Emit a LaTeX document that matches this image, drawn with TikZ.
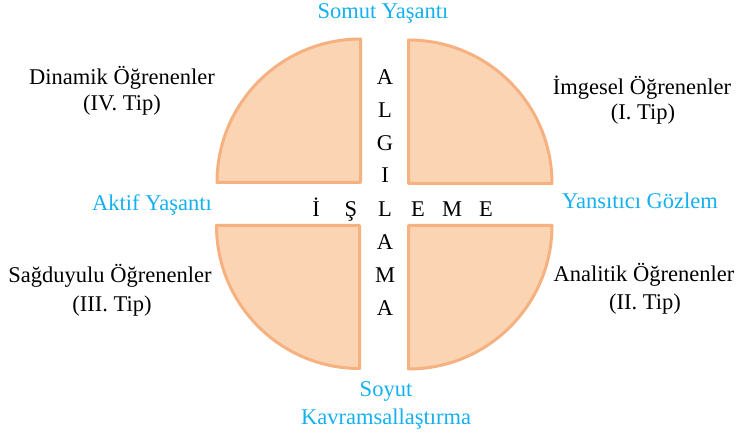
\documentclass[tikz,border=0pt]{standalone}
\usepackage{fontspec}
\setmainfont{Liberation Serif}
\definecolor{quadfill}{RGB}{251,212,180}
\definecolor{quadline}{RGB}{245,178,128}
\definecolor{bluetext}{RGB}{20,176,240}
\begin{document}
\begin{tikzpicture}[x=1pt,y=1pt,
  quad/.style={fill=quadfill,draw=quadline,line width=3pt,line join=round},
  lbl/.style={inner sep=0pt,anchor=base,font=\fontsize{22.5}{27}\selectfont},
  bluelbl/.style={lbl,text=bluetext},
  letter/.style={lbl}]
\useasboundingbox (0,0) rectangle (738,438);
% quadrants
\path[quad] (360.5,255.5) -- ++(-143.5,0) arc[start angle=180,end angle=90,radius=143.5] -- cycle;
\path[quad] (408.5,254.5) -- ++(0,143.5) arc[start angle=90,end angle=0,radius=143.5] -- cycle;
\path[quad] (359.5,212.5) -- ++(-143,0) arc[start angle=180,end angle=270,radius=143] -- cycle;
\path[quad] (408.5,212.5) -- ++(143.5,0) arc[start angle=0,end angle=-90,radius=143.5] -- cycle;
% vertical word
\node[letter] (v1) at (385,353) {A};
\node[letter] (v2) at (385,320) {L};
\node[letter] (v3) at (385,287) {G};
\node[letter] (v4) at (385,255) {I};
\node[letter] (v5) at (385,221.5) {L};
\node[letter] (v6) at (385,188) {A};
\node[letter] (v7) at (385,155) {M};
\node[letter] (v8) at (385,122) {A};
% horizontal word
\node[letter] (h1) at (316,221.5) {İ};
\node[letter] (h2) at (351,221.5) {Ş};
\node[letter] (h4) at (418,221.5) {E};
\node[letter] (h5) at (452,221.5) {M};
\node[letter] (h6) at (486,221.5) {E};
% blue labels
\node[bluelbl] (somut) at (383,419) {Somut Yaşantı};
\node[bluelbl] (aktif) at (152,227) {Aktif Yaşantı};
\node[bluelbl] (yans) at (640,229) {Yansıtıcı Gözlem};
\node[bluelbl] (soyut1) at (386,41) {Soyut};
\node[bluelbl] (soyut2) at (386,13) {Kavramsallaştırma};
% learner types
\node[lbl] (dyn1) at (122,353) {Dinamik Öğrenenler};
\node[lbl] (dyn2) at (122,327) {(IV. Tip)};
\node[lbl] (img1) at (642,343) {İmgesel Öğrenenler};
\node[lbl] (img2) at (643,318) {(I. Tip)};
\node[lbl] (sag1) at (110,155) {Sağduyulu Öğrenenler};
\node[lbl] (sag2) at (112,126) {(III. Tip)};
\node[lbl] (ana1) at (644,156) {Analitik Öğrenenler};
\node[lbl] (ana2) at (645,128) {(II. Tip)};
\end{tikzpicture}
\end{document}
